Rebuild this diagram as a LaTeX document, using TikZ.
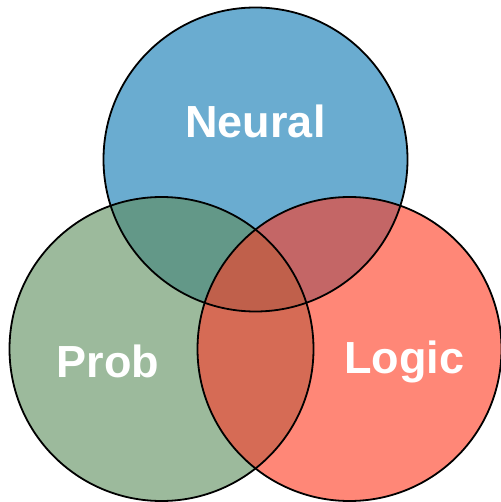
\documentclass[tikz,border=0pt]{standalone}
\usepackage{fontspec}
\setmainfont{Liberation Sans}
\begin{document}
\begin{tikzpicture}[x=1pt,y=-1pt,
  lbl/.style={text=white,font=\fontsize{45}{54}\selectfont\bfseries,inner sep=0pt,anchor=base},
  ring/.style={draw=black,line width=1.8pt}]
\definecolor{cN}{HTML}{6AACD0}
\definecolor{cP}{HTML}{9CBA9C}
\definecolor{cL}{HTML}{FF8777}
\definecolor{cNP}{HTML}{639888}
\definecolor{cNL}{HTML}{C46666}
\definecolor{cPL}{HTML}{D66B55}
\definecolor{cNPL}{HTML}{C0604B}
\useasboundingbox (0,0) rectangle (500,502);
\fill[white] (0,0) rectangle (500,502);
\coordinate (N) at (255.5,159.5);
\coordinate (P) at (161.5,349);
\coordinate (L) at (349.5,349);
\fill[cN] (N) circle (152pt);
\fill[cP] (P) circle (152pt);
\fill[cL] (L) circle (152pt);
\begin{scope}\clip (N) circle (152pt); \fill[cNP] (P) circle (152pt); \end{scope}
\begin{scope}\clip (N) circle (152pt); \fill[cNL] (L) circle (152pt); \end{scope}
\begin{scope}\clip (P) circle (152pt); \fill[cPL] (L) circle (152pt); \end{scope}
\begin{scope}\clip (N) circle (152pt); \clip (P) circle (152pt); \fill[cNPL] (L) circle (152pt); \end{scope}
\draw[ring] (N) circle (152pt);
\draw[ring] (P) circle (152pt);
\draw[ring] (L) circle (152pt);
\node[lbl] (tN) at (255.5,138) {Neural};
\node[lbl] (tP) at (108,377) {Prob};
\node[lbl] (tL) at (404,373) {Logic};
\end{tikzpicture}
\end{document}
